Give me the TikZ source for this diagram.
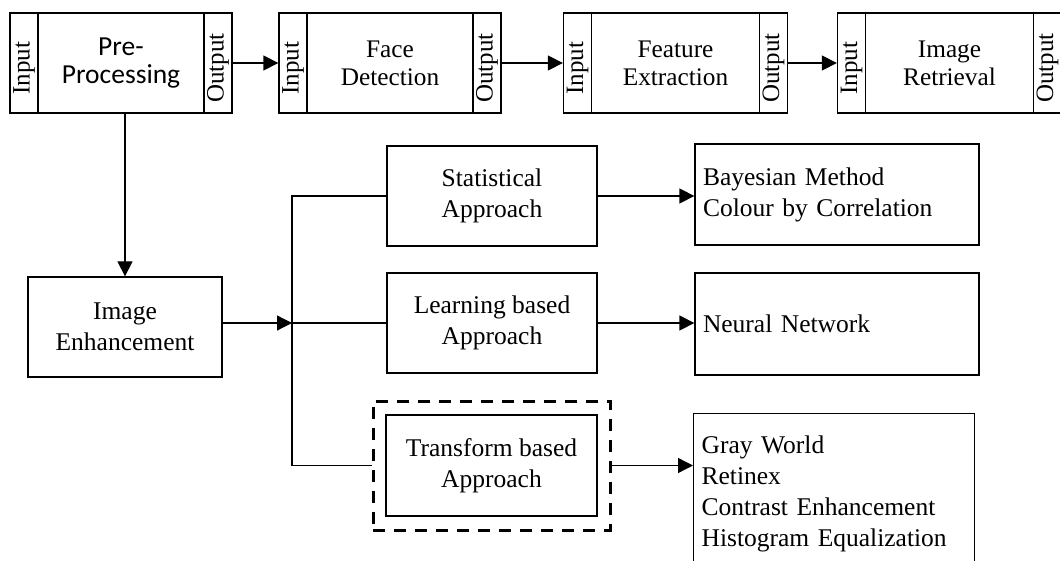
\documentclass[tikz,border=0pt]{standalone}
\usepackage{fontspec}
\setmainfont{Liberation Serif}
\newfontfamily\calibrifont{Carlito}
\usepackage{graphicx}
\usetikzlibrary{arrows.meta}

\newcommand{\striptext}[1]{\rotatebox{90}{#1\hspace{10pt}}}

\begin{document}
\begin{tikzpicture}[x=1pt,y=-1pt,line width=1.3pt,
    arr/.style={-{Triangle[length=15pt,width=15pt]}},
    stage node/.style={draw,inner sep=0pt,minimum width=166,minimum height=100,align=center,font=\fontsize{25.3}{28}\selectfont},
    strip node/.style={draw,inner sep=0pt,minimum width=28,minimum height=100,font=\fontsize{25}{28}\selectfont},
    box node/.style={draw,inner sep=0pt,minimum width=210,minimum height=100,align=center,font=\fontsize{25.5}{31}\selectfont},
    list node/.style={draw,inner xsep=8pt,inner ysep=0pt,text width=268,align=left,font=\fontsize{25.5}{31}\selectfont},
    dash node/.style={draw,line width=3pt,dash pattern=on 12pt off 9pt,inner sep=0pt}]
  \useasboundingbox (0,0) rectangle (1060,561);
  \clip (0,0) rectangle (1060,561);
  % pipeline across the top
  \node[strip node] (pin) at (24,63) {\striptext{Input}};
  \node[stage node,font=\calibrifont\fontsize{27.5}{28}\selectfont] (pre) at (121,63) {Pre-\\Processing};
  \node[strip node] (pout) at (218,63) {\striptext{Output}};
  \node[strip node] (fin) at (293,63) {\striptext{Input}};
  \node[stage node] (face) at (390,63) {Face\\Detection};
  \node[strip node] (fout) at (487,63) {\striptext{Output}};
  \node[strip node] (xin) at (577.5,63) {\striptext{Input}};
  \node[stage node,minimum width=168] (feat) at (675.5,63) {Feature\\Extraction};
  \node[strip node] (xout) at (773.5,63) {\striptext{Output}};
  \node[strip node] (rin) at (851.5,63) {\striptext{Input}};
  \node[stage node,minimum width=168] (retr) at (949.5,63) {Image\\Retrieval};
  \node[strip node] (rout) at (1047.5,63) {\striptext{Output}};
  % enhancement branch
  \node[box node,minimum width=194] (ie) at (125,327) {Image\\Enhancement};
  \node[box node] (stat) at (492,196) {Statistical\\Approach};
  \node[box node] (learn) at (492,323) {Learning based\\Approach};
  \node[box node,minimum width=211,minimum height=101] (trans) at (491.5,465.5) {Transform based\\Approach};
  \node[dash node,minimum width=237,minimum height=129] (tframe) at (491.5,465.5) {};
  \node[list node,minimum height=101] (bayes) at (837,194.5) {Bayesian Method\\Colour by Correlation};
  \node[list node,minimum height=102] (neural) at (837,324) {Neural Network};
  \node[list node,text width=265,anchor=north west,inner ysep=22pt] (gray) at (693,413) {Gray World\\Retinex\\Contrast Enhancement\\Histogram Equalization};
  \coordinate (hub) at (292,323);
  \path
    (pout) edge[arr] (fin)
    (fout) edge[arr] (xin)
    (xout) edge[arr] (rin);
  \draw[arr] (pre.south -| ie) -- (ie);
  \draw[arr] (ie.east |- hub) -- (hub);
  \draw (stat.west) -| (hub) |- (tframe.west);
  \draw (hub) -- (hub -| learn.west);
  \draw[arr] (stat.east) -- (stat.east -| bayes.west);
  \draw[arr] (learn.east) -- (learn.east -| neural.west);
  \draw[arr] (tframe.east) -- (tframe.east -| gray.west);
\end{tikzpicture}
\end{document}
